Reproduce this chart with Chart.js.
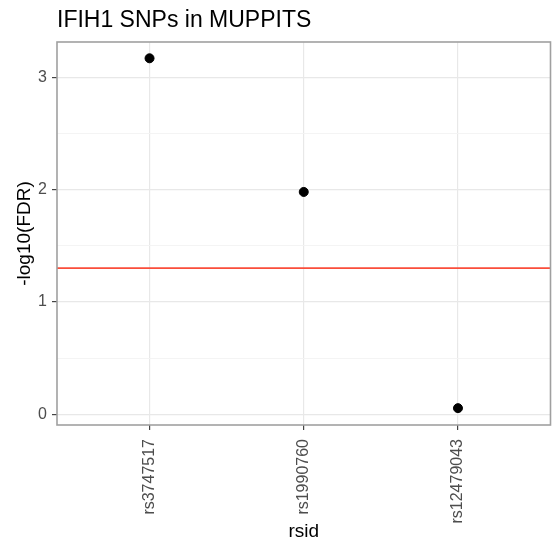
<!DOCTYPE html>
<html>
<head>
<meta charset="utf-8">
<script src="https://cdn.jsdelivr.net/npm/chart.js@4"></script>
<style>
  body { margin: 0; background: #fff; }
  #wrap { width: 556px; height: 550px; }
</style>
</head>
<body>
<div id="wrap"><canvas id="snpChart"></canvas></div>
<script>
// datos
const rsids = ["rs3747517", "rs1990760", "rs12479043"];
const logFdr = [3.17, 1.98, 0.055];
const fdrCutoff = 1.301; // -log10(0.05)
const yTicks = [0, 1, 2, 3];

const FONT = "'Liberation Sans', Arial, sans-serif";

// titulo arriba a la izquierda, alineado con el panel
const titlePlugin = {
    id: 'titleLeft',
    afterDraw(chart) {
        const ctx = chart.ctx;
        ctx.save();
        ctx.font = "23px " + FONT;
        ctx.fillStyle = "#000";
        ctx.textBaseline = "alphabetic";
        ctx.textAlign = "left";
        ctx.fillText("IFIH1 SNPs in MUPPITS", chart.chartArea.left, 27);
        ctx.restore();
    }
};

// linea roja del umbral y borde del panel
const panelPlugin = {
    id: 'panel',
    beforeDatasetsDraw(chart) {
        const ctx = chart.ctx;
        const a = chart.chartArea;
        const y = chart.scales.y.getPixelForValue(fdrCutoff);
        ctx.save();
        ctx.strokeStyle = "#fa4d3a";
        ctx.lineWidth = 1.8;
        ctx.beginPath();
        ctx.moveTo(a.left, y);
        ctx.lineTo(a.right, y);
        ctx.stroke();
        ctx.restore();
    },
    afterDatasetsDraw(chart) {
        const ctx = chart.ctx;
        const a = chart.chartArea;
        ctx.save();
        ctx.strokeStyle = "#a0a0a0";
        ctx.lineWidth = 1.6;
        ctx.strokeRect(a.left, a.top, a.right - a.left, a.bottom - a.top);
        ctx.restore();
    }
};

const isWhole = v => Math.abs(v - Math.round(v)) < 1e-9;

new Chart(document.getElementById('snpChart'), {
    type: 'scatter',
    data: {
        datasets: [{
            data: rsids.map((r, i) => ({ x: i, y: logFdr[i] })),
            backgroundColor: '#000',
            borderColor: '#000',
            pointRadius: 4.5,
            pointHoverRadius: 4.5,
            clip: false
        }]
    },
    options: {
        responsive: true,
        maintainAspectRatio: false,
        animation: false,
        layout: { padding: { top: 42, right: 5, left: 0, bottom: 0 } },
        plugins: {
            legend: { display: false },
            tooltip: { enabled: false },
            title: { display: false }
        },
        scales: {
            x: {
                type: 'linear',
                min: -0.6,
                max: rsids.length - 0.4,
                afterFit: s => { s.height = 125; },
                border: { display: false },
                grid: {
                    color: '#e8e8e8',
                    lineWidth: 1.2,
                    tickColor: '#444',
                    tickLength: 5
                },
                ticks: {
                    stepSize: 1,
                    includeBounds: false,
                    autoSkip: false,
                    minRotation: 90,
                    maxRotation: 90,
                    padding: 9,
                    color: '#4d4d4d',
                    font: { family: FONT, size: 16 },
                    callback: v => isWhole(v) ? (rsids[Math.round(v)] || '') : ''
                },
                title: {
                    display: true,
                    text: 'rsid',
                    color: '#000',
                    font: { family: FONT, size: 19 },
                    padding: { top: 0, bottom: 7 }
                }
            },
            y: {
                min: -0.095,
                max: 3.315,
                afterFit: s => { s.width = 57; },
                border: { display: false },
                grid: {
                    color: c => isWhole(c.tick.value) ? '#e8e8e8' : '#f3f3f3',
                    lineWidth: c => isWhole(c.tick.value) ? 1.2 : 0.9,
                    tickColor: c => isWhole(c.tick.value) ? '#444' : 'rgba(0,0,0,0)',
                    tickLength: 5
                },
                ticks: {
                    stepSize: 0.5,
                    includeBounds: false,
                    autoSkip: false,
                    padding: 5,
                    color: '#4d4d4d',
                    font: { family: FONT, size: 16 },
                    callback: v => yTicks.includes(v) ? String(v) : ''
                },
                title: {
                    display: true,
                    text: '-log10(FDR)',
                    color: '#000',
                    font: { family: FONT, size: 19 },
                    padding: { top: 13, bottom: 0 }
                }
            }
        }
    },
    plugins: [titlePlugin, panelPlugin]
});
</script>
</body>
</html>
